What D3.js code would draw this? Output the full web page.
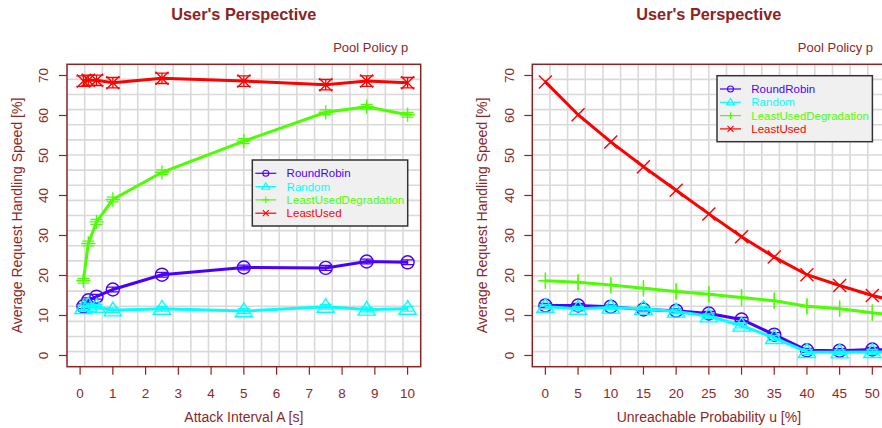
<!DOCTYPE html>
<meta charset="utf-8">
<body style="margin:0;background:#fff">
<style>
text { font-family: "Liberation Sans", Arial, sans-serif; fill: #8b2727; }
.grid line { stroke: #d9d9d9; stroke-width: 1.6px; }
.frame { fill: none; stroke: #8b2323; stroke-width: 1.5px; }
.tick { stroke: #8b2323; stroke-width: 1.2px; }
</style>
<script src="https://d3js.org/d3.v7.min.js"></script>
<script>

// series order: RoundRobin, Random, LeastUsedDegradation, LeastUsed
var policies = ["RoundRobin", "Random", "LeastUsedDegradation", "LeastUsed"];
var colors = ["#4a00ff", "#00ffff", "#4cff00", "#ff0000"];
var shapes = ["circle", "triangle", "plus", "cross"];

// left panel: attack interval A [s]
var attackInterval = [0.1, 0.25, 0.5, 1, 2.5, 5, 7.5, 8.75, 10];
var attackRoundRobin = [12.3, 13.8, 14.7, 16.5, 20.2, 22.0, 21.9, 23.5, 23.3];
var attackRandom = [11.9, 12.5, 12.2, 11.3, 11.7, 11.1, 12.2, 11.5, 11.7];
var attackLeastUsedDeg = [18.7, 28.0, 33.4, 39.0, 45.8, 53.6, 60.8, 62.2, 60.2];
var attackLeastUsed = [68.6, 68.8, 68.8, 68.2, 69.3, 68.6, 67.7, 68.6, 68.2];
var attackErrors = [0.6, 0.6, 0.6, 1.3];
var attackTicks = [0, 1, 2, 3, 4, 5, 6, 7, 8, 9, 10];

// right panel: unreachable probability u [%]
var unreachProb = [0, 5, 10, 15, 20, 25, 30, 35, 40, 45, 50, 55];
var unreachRoundRobin = [12.5, 12.5, 12.2, 11.5, 11.2, 10.5, 9.0, 5.2, 1.3, 1.2, 1.5, 1.2];
var unreachRandom = [12.2, 11.7, 12.0, 11.7, 11.0, 9.8, 7.5, 4.4, 0.9, 0.8, 0.9, 0.9];
var unreachLeastUsedDeg = [18.7, 18.3, 17.6, 16.8, 16.0, 15.3, 14.5, 13.7, 12.3, 11.7, 10.7, 9.7];
var unreachLeastUsed = [68.4, 60.2, 53.4, 47.2, 41.3, 35.4, 29.7, 24.6, 20.2, 17.5, 15.0, 13.0];
var unreachErrors = [0.5, 0.6, 2.1, 0.4];
var unreachTicks = [0, 5, 10, 15, 20, 25, 30, 35, 40, 45, 50];

var yTicks = [0, 10, 20, 30, 40, 50, 60, 70];

var svg = d3.select("body").append("svg")
    .attr("width", 882)
    .attr("height", 428);

drawPanel({
  id: "a", left: 67, right: 420.7, top: 64.3, bottom: 366.7,
  xDomain: [-0.4, 10.4], xs: attackInterval, xTicks: attackTicks,
  series: [attackRoundRobin, attackRandom, attackLeastUsedDeg, attackLeastUsed],
  errors: attackErrors, caps: [6, 6, 6, 7], xLabel: "Attack Interval A [s]", legendTop: 160
});

drawPanel({
  id: "u", left: 532.3, right: 885.4, top: 64.3, bottom: 366.7,
  xDomain: [-2, 52], xs: unreachProb, xTicks: unreachTicks,
  series: [unreachRoundRobin, unreachRandom, unreachLeastUsedDeg, unreachLeastUsed],
  errors: unreachErrors, caps: [6, 6, 0, 0], xLabel: "Unreachable Probability u [%]", legendTop: 75.7
});

function drawPanel(p) {
  var x = d3.scaleLinear().domain(p.xDomain).range([p.left, p.right]);
  var y = d3.scaleLinear().domain([-2.8, 72.8]).range([p.bottom, p.top]);
  var cx = (p.left + p.right) / 2, cy = (p.top + p.bottom) / 2;
  var g = svg.append("g");

  // grid: 20 equal divisions of the plot region
  var grid = g.append("g").attr("class", "grid");
  var k = d3.range(1, 20);
  grid.selectAll(".gx").data(k).enter().append("line")
      .attr("x1", function(i) { return p.left + i * (p.right - p.left) / 20; })
      .attr("x2", function(i) { return p.left + i * (p.right - p.left) / 20; })
      .attr("y1", p.top).attr("y2", p.bottom);
  grid.selectAll(".gy").data(k).enter().append("line")
      .attr("y1", function(i) { return p.top + i * (p.bottom - p.top) / 20; })
      .attr("y2", function(i) { return p.top + i * (p.bottom - p.top) / 20; })
      .attr("x1", p.left).attr("x2", p.right);

  g.append("clipPath").attr("id", "clip-" + p.id)
    .append("rect")
      .attr("x", p.left).attr("y", p.top)
      .attr("width", p.right - p.left).attr("height", p.bottom - p.top);

  var plot = g.append("g").attr("clip-path", "url(#clip-" + p.id + ")");
  var line = d3.line()
      .x(function(d) { return x(d[0]); })
      .y(function(d) { return y(d[1]); });

  p.series.forEach(function(vals, s) {
    var pts = p.xs.map(function(v, i) { return [v, vals[i]]; });
    plot.append("path")
        .datum(pts)
        .attr("d", line)
        .attr("fill", "none")
        .attr("stroke", colors[s])
        .attr("stroke-width", 3);
    var e = p.errors[s], c = p.caps[s];
    pts.forEach(function(d) {
      var px = x(d[0]);
      var bar = "M" + px + "," + y(d[1] - e) + "V" + y(d[1] + e);
      if (c > 0) {
        bar += "M" + (px - c) + "," + y(d[1] - e) + "h" + 2 * c +
               "M" + (px - c) + "," + y(d[1] + e) + "h" + 2 * c;
      }
      plot.append("path")
          .attr("d", bar)
          .attr("fill", "none")
          .attr("stroke", colors[s])
          .attr("stroke-width", 1.3);
      marker(plot, shapes[s], px, y(d[1]), 6.5, colors[s], 1.4);
    });
  });

  g.append("rect").attr("class", "frame")
      .attr("x", p.left).attr("y", p.top)
      .attr("width", p.right - p.left).attr("height", p.bottom - p.top);

  // x axis
  g.selectAll(".xt").data(p.xTicks).enter().append("line")
      .attr("class", "tick")
      .attr("x1", function(d) { return x(d); }).attr("x2", function(d) { return x(d); })
      .attr("y1", p.bottom).attr("y2", p.bottom + 8);
  g.selectAll(".xl").data(p.xTicks).enter().append("text")
      .attr("x", function(d) { return x(d); })
      .attr("y", p.bottom + 30.8)
      .attr("text-anchor", "middle")
      .style("font-size", "13.5px")
      .text(function(d) { return d; });

  // y axis
  g.selectAll(".yt").data(yTicks).enter().append("line")
      .attr("class", "tick")
      .attr("y1", function(d) { return y(d); }).attr("y2", function(d) { return y(d); })
      .attr("x1", p.left - 8).attr("x2", p.left);
  g.selectAll(".yl").data(yTicks).enter().append("text")
      .attr("transform", function(d) { return "translate(" + (p.left - 18.7) + "," + y(d) + ") rotate(-90)"; })
      .attr("text-anchor", "middle")
      .style("font-size", "13.5px")
      .text(function(d) { return d; });

  g.append("text")
      .attr("transform", "translate(" + (p.left - 45) + "," + cy + ") rotate(-90)")
      .attr("text-anchor", "middle")
      .style("font-size", "14px")
      .text("Average Request Handling Speed [%]");
  g.append("text")
      .attr("x", cx).attr("y", 421.8)
      .attr("text-anchor", "middle")
      .style("font-size", "14px")
      .text(p.xLabel);

  g.append("text")
      .attr("x", cx).attr("y", 19.5)
      .attr("text-anchor", "middle")
      .style("font-size", "16.3px").style("font-weight", "bold")
      .style("fill", "#8b2323")
      .text("User's Perspective");
  g.append("text")
      .attr("x", p.right - 12.4).attr("y", 52)
      .attr("text-anchor", "end")
      .style("font-size", "13px")
      .text("Pool Policy p");

  // legend
  var lx = p.right - 168.4, lw = 155.4;
  var lg = g.append("g");
  lg.append("rect")
      .attr("x", lx).attr("y", p.legendTop)
      .attr("width", lw).attr("height", 66)
      .attr("fill", "#f0f0f0")
      .attr("stroke", "#333")
      .attr("stroke-width", 1.5);
  policies.forEach(function(name, s) {
    var ry = p.legendTop + 13.3 + s * 13.3;
    lg.append("line")
        .attr("x1", lx + 3).attr("x2", lx + 24)
        .attr("y1", ry).attr("y2", ry)
        .attr("stroke", colors[s]).attr("stroke-width", 1.2);
    marker(lg, shapes[s], lx + 13.5, ry, 3, colors[s], 1.1);
    lg.append("text")
        .attr("x", lx + 34.3).attr("y", ry + 4)
        .style("font-size", "11.5px")
        .style("fill", colors[s])
        .text(name);
  });
}

function marker(sel, shape, px, py, r, color, w) {
  var d;
  if (shape == "circle") {
    sel.append("circle").attr("cx", px).attr("cy", py).attr("r", r)
        .attr("fill", "none").attr("stroke", color).attr("stroke-width", w);
    return;
  }
  if (shape == "triangle") {
    var h = r * 1.15;
    d = "M" + px + "," + (py - h * 1.1) + "L" + (px + h * 1.15) + "," + (py + h * 0.75) +
        "L" + (px - h * 1.15) + "," + (py + h * 0.75) + "Z";
  } else if (shape == "plus") {
    var a = r * 1.1;
    d = "M" + (px - a) + "," + py + "h" + 2 * a + "M" + px + "," + (py - a) + "v" + 2 * a;
  } else {
    d = "M" + (px - r) + "," + (py - r) + "L" + (px + r) + "," + (py + r) +
        "M" + (px - r) + "," + (py + r) + "L" + (px + r) + "," + (py - r);
  }
  sel.append("path").attr("d", d)
      .attr("fill", "none").attr("stroke", color).attr("stroke-width", w);
}

</script>
</body>
</html>
